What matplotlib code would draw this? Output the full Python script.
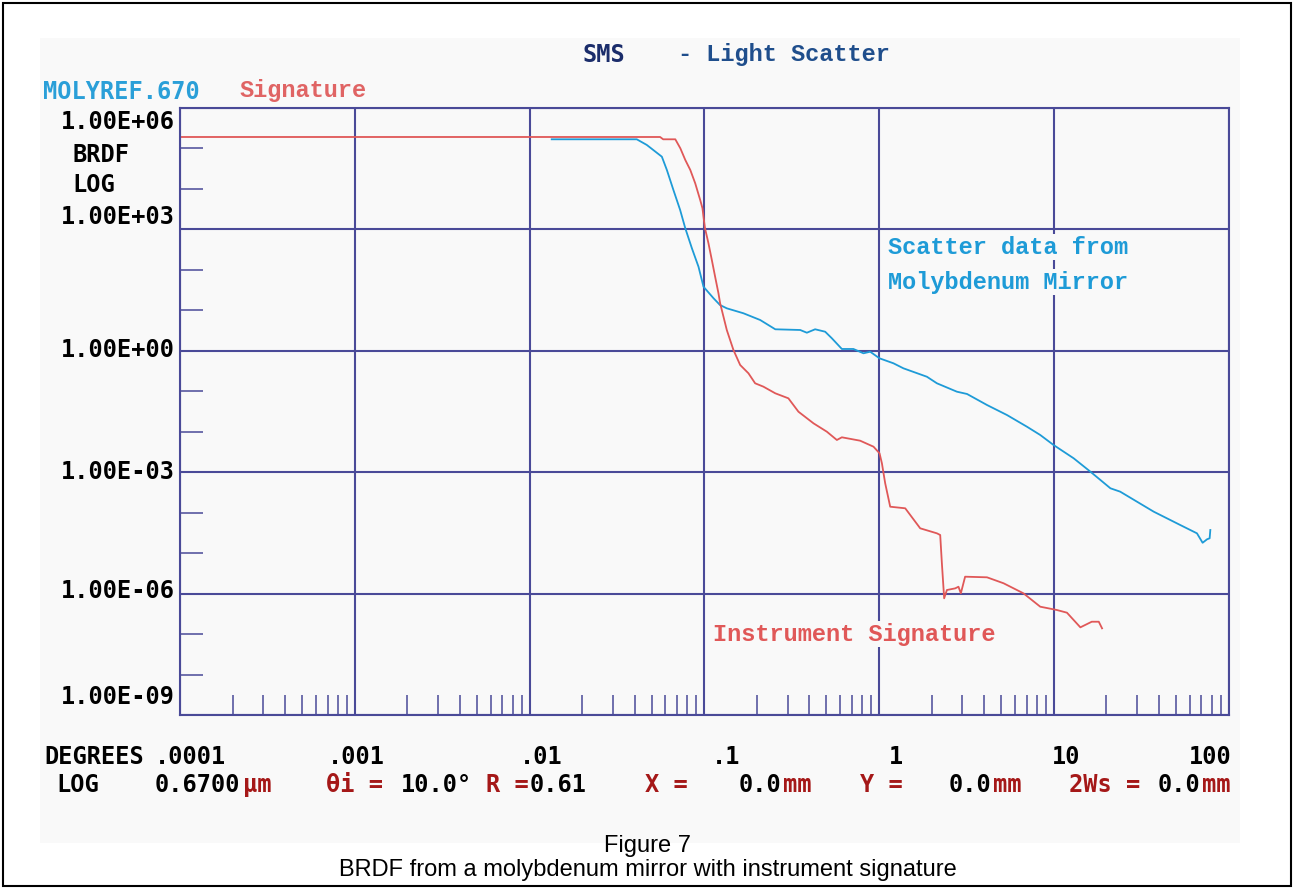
import matplotlib
matplotlib.use("Agg")
import matplotlib.pyplot as plt
from matplotlib.patches import Rectangle
from matplotlib.ticker import LogLocator, FixedLocator, NullFormatter

# ---- data (degrees, BRDF) ----
sig_deg = [0.0001, 0.0559, 0.0582, 0.0683, 0.0730, 0.0779, 0.0832, 0.0888,
           0.0948, 0.0977, 0.0990, 0.101, 0.1057, 0.1105, 0.1154, 0.1206,
           0.1233, 0.1346, 0.1469, 0.1605, 0.179, 0.1955, 0.218, 0.255,
           0.303, 0.346, 0.422, 0.503, 0.574, 0.613, 0.78, 0.930,
           1.007, 1.039, 1.085, 1.159, 1.413, 1.721, 2.145, 2.24,
           2.29, 2.36, 2.447, 2.73, 2.85, 2.94, 3.11, 4.15,
           5.16, 6.71, 8.37, 10.4, 11.9, 14.2, 16.5, 18.1, 18.9]
sig_brdf = [1.87e5, 1.87e5, 1.64e5, 1.64e5, 9.8e4, 5.06e4, 2.87e4, 1.34e4,
            5.2e3, 3.24e3, 2.01e3, 1.04e3, 444, 172, 66.4, 25.8,
            14.6, 3.2, 1.03, 0.439, 0.274, 0.155, 0.128, 0.0877,
            0.066, 0.0308, 0.0159, 0.00989, 0.00617, 0.00719, 0.00593, 0.00422,
            0.0029, 0.00164, 5.26e-4, 1.39e-4, 1.27e-4, 4.07e-5, 3.06e-5, 2.78e-5,
            5.57e-6, 7.6e-7, 1.22e-6, 1.34e-6, 1.47e-6, 1.01e-6, 2.6e-6, 2.51e-6,
            1.79e-6, 1.01e-6, 4.72e-7, 3.92e-7, 3.36e-7, 1.46e-7, 2.01e-7, 2.01e-7, 1.38e-7]

moly_deg = [0.0134, 0.0411, 0.0469, 0.0572, 0.0611, 0.0666, 0.0728, 0.0779,
            0.085, 0.0927, 0.099, 0.113, 0.123, 0.1346, 0.1676, 0.209,
            0.255, 0.354, 0.3865, 0.431, 0.492, 0.5375, 0.613, 0.714,
            0.815, 0.89, 1.007, 1.21, 1.38, 1.88, 2.145, 2.79,
            3.19, 4.15, 5.4, 7.03, 8.37, 9.97, 13.0, 16.2,
            21.1, 24.0, 37.3, 53.0, 66.0, 71.1, 75.4, 78.0, 78.7]
moly_brdf = [1.64e5, 1.64e5, 1.19e5, 6.1e4, 2.87e4, 9.2e3, 2.94e3, 1.04e3,
             333, 117, 37.6, 19.5, 13.3, 11.0, 8.3, 5.66,
             3.34, 3.21, 2.75, 3.34, 2.91, 2.0, 1.09, 1.09,
             0.853, 0.933, 0.641, 0.483, 0.363, 0.225, 0.155, 0.0962,
             0.0844, 0.0451, 0.0255, 0.0131, 0.0082, 0.00465, 0.00218, 0.00102,
             3.96e-4, 3.27e-4, 1.05e-4, 4.9e-5, 3.06e-5, 1.79e-5, 2.18e-5, 2.31e-5, 3.7e-5]

x_decades = [1e-4, 1e-3, 1e-2, 1e-1, 1, 10, 100]
x_labels = [".0001", ".001", ".01", ".1", "1", "10", "100"]
y_decades = [1e6, 1e3, 1e0, 1e-3, 1e-6, 1e-9]
y_labels = ["1.00E+06", "1.00E+03", "1.00E+00", "1.00E-03", "1.00E-06", "1.00E-09"]

# ---- look ----
W, H = 1295, 890
NAVY = "#4a4a98"
RED = "#e05858"
CYAN = "#1e9bd7"
DARKRED = "#a51818"
BG = "#f9f9f9"
DOS = "DejaVu Sans Mono"
SERIF = "Liberation Mono"
FS = 17


def fx(px):
    return px / W


def fy(py):
    return 1 - py / H


fig = plt.figure(figsize=(W / 100, H / 100), dpi=100)
fig.add_artist(Rectangle((fx(40), fy(843)), 1200 / W, 805 / H, transform=fig.transFigure,
                         facecolor=BG, edgecolor="none", zorder=0))
fig.add_artist(Rectangle((fx(3), fy(886)), 1288 / W, 883 / H, transform=fig.transFigure,
                         fill=False, edgecolor="black", lw=1.5, zorder=5))

ax = fig.add_axes([fx(180), fy(715), (1228.5 - 180) / W, (715 - 107.5) / H])
ax.set_facecolor("none")
ax.set_xscale("log")
ax.set_yscale("log")
ax.set_xlim(1e-4, 1e2)
ax.set_ylim(1e-9, 1e6)

ax.set_xticks(x_decades)
ax.set_yticks(y_decades)
ax.xaxis.set_minor_locator(LogLocator(base=10, subs=range(2, 10), numticks=30))
ax.yaxis.set_minor_locator(FixedLocator([10.0 ** k for k in range(-9, 7) if k % 3 != 0]))
ax.xaxis.set_minor_formatter(NullFormatter())
ax.yaxis.set_minor_formatter(NullFormatter())
ax.tick_params(which="major", length=0, labelbottom=False, labelleft=False)
ax.tick_params(axis="x", which="minor", direction="in", length=14.5, width=1.1, color=NAVY)
ax.tick_params(axis="y", which="minor", direction="in", length=16.5, width=1.1, color=NAVY)
ax.grid(which="major", color=NAVY, lw=1.5)
for s in ax.spines.values():
    s.set_color(NAVY)
    s.set_linewidth(1.5)

ax.plot(moly_deg, moly_brdf, color=CYAN, lw=1.3)
ax.plot(sig_deg, sig_brdf, color=RED, lw=1.3)

# y tick labels (character-grid placement of the original screen)
ylab_y = [122, 217, 350, 472, 591, 697]
for lab, py in zip(y_labels, ylab_y):
    fig.text(fx(175), fy(py), lab, ha="right", va="center", family=DOS,
             weight="bold", size=FS)
fig.text(fx(72), fy(155), "BRDF", ha="left", va="center", family=DOS, weight="bold", size=FS)
fig.text(fx(72), fy(185), "LOG", ha="left", va="center", family=DOS, weight="bold", size=FS)

# x tick labels
xlab_x = [191, 356, 541, 726, 896, 1066, 1210]
for lab, px in zip(x_labels, xlab_x):
    fig.text(fx(px), fy(757), lab, ha="center", va="center", family=DOS,
             weight="bold", size=FS)
fig.text(fx(44), fy(757), "DEGREES", ha="left", va="center", family=DOS, weight="bold", size=FS)

# parameter line
params = [("LOG", 56, "black"), ("0.6700", 155, "black"), ("\u03bcm", 243, DARKRED),
          ("\u03b8i =", 326, DARKRED), ("10.0\u00b0", 401, "black"),
          ("R =", 486, DARKRED), ("0.61", 530, "black"),
          ("X =", 645, DARKRED), ("0.0", 739, "black"), ("mm", 783, DARKRED),
          ("Y =", 860, DARKRED), ("0.0", 949, "black"), ("mm", 993, DARKRED),
          ("2Ws =", 1069, DARKRED), ("0.0", 1158, "black"), ("mm", 1202, DARKRED)]
for txt, px, col in params:
    fig.text(fx(px), fy(785), txt, ha="left", va="center", family=DOS,
             weight="bold", size=FS, color=col)

# header
fig.text(fx(582), fy(55), "SMS", ha="left", va="center", family=DOS, weight="bold",
         size=FS, color="#1b2d6b")
fig.text(fx(678), fy(55), "- Light Scatter", ha="left", va="center", family=SERIF,
         weight="bold", size=FS, color="#1f4e8c")
fig.text(fx(43), fy(92), "MOLYREF.670", ha="left", va="center", family=DOS, weight="bold",
         size=FS, color="#2a9fd8")
fig.text(fx(240), fy(91), "Signature", ha="left", va="center", family=SERIF, weight="bold",
         size=FS, color="#e06464")

# curve annotations (boxes hide the grid like the original screen)
box = dict(facecolor=BG, edgecolor="none", pad=1)
fig.text(fx(888), fy(247), "Scatter data from", ha="left", va="center", family=SERIF,
         weight="bold", size=FS, color=CYAN, bbox=box)
fig.text(fx(888), fy(282), "Molybdenum Mirror", ha="left", va="center", family=SERIF,
         weight="bold", size=FS, color=CYAN, bbox=box)
fig.text(fx(713), fy(634), "Instrument Signature", ha="left", va="center", family=SERIF,
         weight="bold", size=FS, color=RED, bbox=box)

# caption
fig.text(0.5, fy(846), "Figure 7", ha="center", va="center", family="Liberation Sans", size=17)
fig.text(0.5, fy(870), "BRDF from a molybdenum mirror with instrument signature",
         ha="center", va="center", family="Liberation Sans", size=17)

fig.savefig("out.png", dpi=100)
